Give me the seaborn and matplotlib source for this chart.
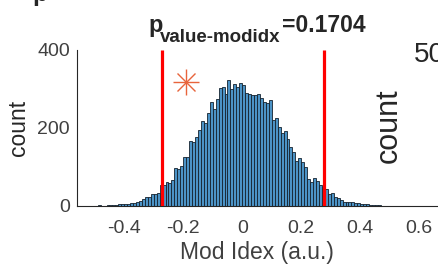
import numpy as np
import pandas as pd
import seaborn as sns
import matplotlib
matplotlib.use("Agg")
import matplotlib.pyplot as plt

# ---- data ----
bin_width = 0.01
bin_start = -0.52
counts = [1, 0, 1, 2, 1, 1, 2, 2, 3, 3, 4, 5, 6, 6, 7, 8, 10, 14,
          18, 22, 24, 30, 32, 34, 53, 55, 62, 58, 67, 98, 94, 102, 126, 125,
          166, 163, 177, 196, 219, 214, 238, 266, 250, 274, 302, 306, 287, 323,
          300, 312, 306, 315, 310, 289, 287,
          285, 285, 287, 276, 266, 265, 272, 220, 225, 203, 186, 192, 173, 152,
          139, 116, 122, 112, 100, 68, 62, 73, 65, 55, 48, 44, 31, 34, 24, 20,
          15, 11, 11, 11, 9, 8, 8, 6, 5, 4, 3, 2, 2, 2, 1, 1, 1, 1, 1, 0, 1, 1, 0]
thresholds = [-0.272, 0.278]
star_x, star_y = [-0.19], [318]
title_p = "p"
title_sub = "value-modidx"
title_val = "=0.1704"
xticks = [-0.4, -0.2, 0, 0.2, 0.4, 0.6]
xticklabels = ["-0.4", "-0.2", "0", "0.2", "0.4", "0.6"]
yticks = [0, 200, 400]
yticklabels = ["0", "200", "400"]
xlabel = "Mod Idex (a.u.)"
ylabel = "count"

n = len(counts)
centers = bin_start + bin_width * (np.arange(n) + 0.5)
df = pd.DataFrame({"modidx": centers, "count": np.asarray(counts, dtype=float)})

sns.set_style("white")
plt.rcParams["font.family"] = ["Liberation Sans", "DejaVu Sans"]

W, H = 439, 267
fig = plt.figure(figsize=(W / 100, H / 100), dpi=100)
ax = fig.add_axes([77 / W, 1 - 206 / H, (437 - 77) / W, (206 - 50) / H])

sns.histplot(data=df, x="modidx", weights="count", binwidth=bin_width,
             binrange=(bin_start, bin_start + n * bin_width), ax=ax,
             color="#4c93c6", alpha=1.0, edgecolor="#15222e", linewidth=0.6)

for t in thresholds:
    ax.plot([t, t], [0, 400], color="#ff0000", lw=2.3, solid_capstyle="butt", zorder=5)

ax.plot(star_x, star_y, marker="+", ms=19, mew=1.0, color="#e8643c", ls="none", zorder=6)
ax.plot(star_x, star_y, marker="x", ms=13.5, mew=1.0, color="#e8643c", ls="none", zorder=6)

ax.set_xlim(-0.56, 0.66)
ax.set_ylim(0, 400)
ax.set_xticks(xticks)
ax.set_xticklabels(xticklabels)
ax.set_yticks(yticks)
ax.set_yticklabels(yticklabels)
ax.tick_params(axis="both", direction="in", length=4, width=0.8, colors="#262626",
               labelsize=14, labelcolor="#404040")
ax.tick_params(axis="x", pad=10)
ax.tick_params(axis="y", pad=5)
for s in ["top", "right"]:
    ax.spines[s].set_visible(False)
for s in ["left", "bottom"]:
    ax.spines[s].set_color("#262626")
    ax.spines[s].set_linewidth(0.8)
ax.set_xlabel(xlabel, fontsize=16.5, color="#404040", labelpad=3)
ax.set_ylabel(ylabel, fontsize=16.5, color="#262626", labelpad=5)

# title pieces
fig.text(148 / W, 1 - 32 / H, title_p, fontsize=17, fontweight="bold", va="baseline", ha="left")
fig.text(160 / W, 1 - 42 / H, title_sub, fontsize=13.5, fontweight="bold", va="baseline", ha="left")
fig.text(282 / W, 1 - 32 / H, title_val, fontsize=16.5, fontweight="bold", va="baseline", ha="left")

# fragments of neighbouring panels
fig.text(32 / W, 1 - 1 / H, "p", fontsize=18, fontweight="bold", va="baseline", ha="left")
fig.text(414 / W, 1 - 62 / H, "50", fontsize=20, color="#262626", va="baseline", ha="left")
fig.text(404 / W, 1 - 126 / H, "count", fontsize=22, color="#262626", rotation=90,
         va="center", ha="right")

fig.savefig("out.png", dpi=100)
